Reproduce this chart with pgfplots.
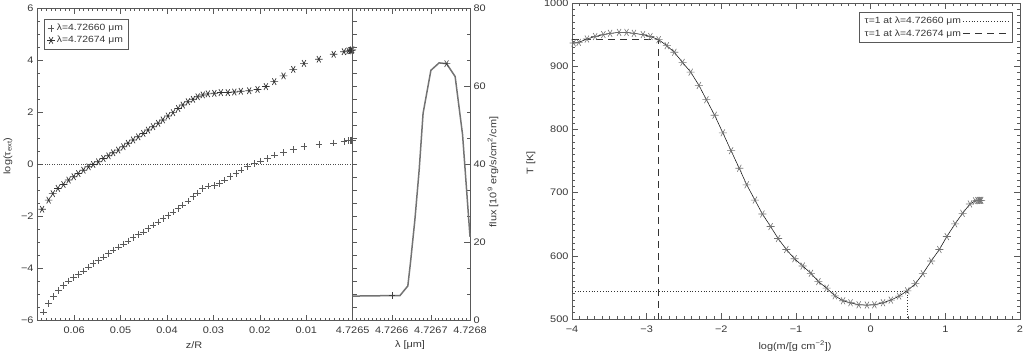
\documentclass[border=0pt]{standalone}
\usepackage{fontspec}
\setmainfont{Liberation Sans}[FakeStretch=1.15]
\usepackage{pgfplots}
\pgfplotsset{compat=1.18}
\definecolor{txt}{gray}{0.22}
\definecolor{frame}{gray}{0.35}
\definecolor{fluxgray}{gray}{0.45}
\pgfplotsset{
  idl/.style={
    scale only axis, anchor=south west, tick align=inside,
    major tick length=6pt, minor tick length=3pt,
    every tick/.style={frame, line width=0.5pt},
    axis line style={frame, line width=0.7pt},
    tick label style={font=\fontsize{9.5}{11}\selectfont, text=txt},
    /pgf/number format/assume math mode=true,
    /pgf/number format/1000 sep={},
    scaled x ticks=false, scaled y ticks=false,
    clip=false,
  }
}
\begin{document}
\begin{tikzpicture}[x=1pt,y=1pt]
\useasboundingbox (0,0) rectangle (1024,353);

% ---------------- left panel ----------------
\begin{axis}[idl, at={(37pt,32.3pt)}, width=315.7pt, height=312.5pt,
  xmin=0, xmax=0.068, x dir=reverse, ymin=-6, ymax=6,
  xtick={0,0.01,0.02,0.03,0.04,0.05,0.06},
  xticklabels={,0.01,0.02,0.03,0.04,0.05,0.06},
  minor xtick={0.001,0.002,0.003,0.004,0.005,0.006,0.007,0.008,0.009,0.011,0.012,0.013,0.014,0.015,0.016,0.017,0.018,0.019,0.021,0.022,0.023,0.024,0.025,0.026,0.027,0.028,0.029,0.031,0.032,0.033,0.034,0.035,0.036,0.037,0.038,0.039,0.041,0.042,0.043,0.044,0.045,0.046,0.047,0.048,0.049,0.051,0.052,0.053,0.054,0.055,0.056,0.057,0.058,0.059,0.061,0.062,0.063,0.064,0.065,0.066,0.067},
  ytick={-6,-4,-2,0,2,4,6}, yticklabels={−6,−4,−2,0,2,4,6},
  minor y tick num=3, ytick pos=left,
  xticklabel style={yshift=-3pt},
  legend style={at={(0.022,0.965)}, anchor=north west, draw=frame, line width=0.6pt,
    font=\fontsize{9}{10.5}\selectfont, text=txt, inner xsep=3pt, inner ysep=3pt, row sep=0pt, cells={anchor=west}},
]
\addplot[forget plot, black!70, dash pattern=on 0.8pt off 1.6pt, line width=0.5pt] coordinates {(0,0) (0.068,0)};
\addplot[only marks, mark=+, mark size=3.3pt, mark options={black!65, line width=0.6pt}] coordinates {
(0.0666,-5.67) (0.0655,-5.35) (0.0644,-5.06) (0.0634,-4.83) (0.0623,-4.64) (0.0612,-4.47)
(0.0601,-4.35) (0.0591,-4.22) (0.0580,-4.09) (0.0569,-3.94) (0.0559,-3.81) (0.0548,-3.68)
(0.0537,-3.55) (0.0526,-3.42) (0.0516,-3.29) (0.0505,-3.17) (0.0494,-3.06) (0.0484,-2.94)
(0.0473,-2.81) (0.0462,-2.69) (0.0451,-2.59) (0.0441,-2.46) (0.0430,-2.33) (0.0419,-2.21)
(0.0409,-2.08) (0.0398,-1.95) (0.0387,-1.82) (0.0376,-1.69) (0.0366,-1.56) (0.0355,-1.41)
(0.0344,-1.24) (0.0334,-1.09) (0.0323,-0.92) (0.0312,-0.83) (0.0298,-0.81) (0.0287,-0.73)
(0.0276,-0.60) (0.0264,-0.47) (0.0251,-0.35) (0.0241,-0.22) (0.0226,-0.09) (0.0212,0.04)
(0.0198,0.13) (0.0184,0.23) (0.0168,0.36) (0.0149,0.46) (0.0128,0.58) (0.0105,0.68)
(0.0073,0.77) (0.0041,0.83) (0.0019,0.87) (0.0009,0.91) (0.0005,0.92) (0.0003,0.93)
(0.0002,0.94) (0.0001,0.94)};
\addlegendentry{λ=4.72660 μm}
\addplot[only marks, mark=asterisk, mark size=3.8pt, mark options={black!80, line width=0.7pt, rotate=90}] coordinates {
(0.0669,-1.72) (0.0655,-1.37) (0.0646,-1.12) (0.0635,-0.92) (0.0623,-0.77) (0.0612,-0.60)
(0.0601,-0.47) (0.0591,-0.35) (0.0580,-0.22) (0.0569,-0.09) (0.0559,0.00) (0.0548,0.10)
(0.0537,0.23) (0.0526,0.33) (0.0516,0.45) (0.0505,0.55) (0.0494,0.68) (0.0484,0.81)
(0.0473,0.94) (0.0462,1.06) (0.0451,1.19) (0.0441,1.32) (0.0430,1.45) (0.0419,1.58)
(0.0409,1.71) (0.0398,1.86) (0.0387,1.99) (0.0376,2.15) (0.0366,2.28) (0.0355,2.41)
(0.0344,2.50) (0.0334,2.60) (0.0323,2.67) (0.0312,2.71) (0.0298,2.73) (0.0284,2.76)
(0.0269,2.76) (0.0255,2.78) (0.0241,2.81) (0.0223,2.83) (0.0205,2.88) (0.0187,2.99)
(0.0169,3.18) (0.0149,3.40) (0.0128,3.65) (0.0105,3.88) (0.0073,4.04) (0.0041,4.23)
(0.0019,4.33) (0.0009,4.36) (0.0005,4.37) (0.0003,4.38) (0.0002,4.39) (0.0001,4.40)};
\addlegendentry{λ=4.72674 μm}
\end{axis}

% ---------------- middle panel: left-edge ticks (log tau scale) ----------------
\begin{axis}[idl, at={(352.7pt,32.3pt)}, width=117.3pt, height=312.5pt,
  ymin=-6, ymax=6, xmin=0, xmax=1, hide x axis,
  ytick={-6,-4,-2,0,2,4,6}, yticklabels={}, minor y tick num=3, ytick pos=left,
  major tick length=4pt, minor tick length=4pt]
\addplot[draw=none, forget plot] coordinates {(0,0)};
\end{axis}

% ---------------- middle panel ----------------
\begin{axis}[idl, at={(352.7pt,32.3pt)}, width=117.3pt, height=312.5pt,
  xmin=0, xmax=3, ymin=0, ymax=80,
  xtick={0,1,2,3}, xticklabels={4.7265,4.7266,4.7267,4.7268},
  minor x tick num=9,
  ytick={0,20,40,60,80}, ytick pos=right, yticklabel pos=right,
  minor y tick num=2,
  xticklabel style={yshift=-3pt},
]
\addplot[fluxgray, line width=1.5pt] coordinates {
(0,6.3) (1.21,6.45) (1.41,8.9) (1.48,15.1) (1.59,25.8) (1.70,38.6) (1.80,53.1)
(2.00,64.1) (2.21,66.0) (2.40,65.8) (2.62,62.5) (2.81,47.6) (3.00,21.5)};
\addplot[only marks, mark=+, mark size=3.3pt, mark options={black!75, line width=0.6pt}] coordinates {(1.0,6.4)};
\addplot[only marks, mark=asterisk, mark size=3.8pt, mark options={black!75, line width=0.6pt, rotate=90}] coordinates {(2.4,65.8)};
\end{axis}

% ---------------- right panel ----------------
\begin{axis}[idl, at={(572pt,34pt)}, width=448pt, height=316pt,
  xmin=-4, xmax=2, ymin=500, ymax=1000,
  xtick={-4,-3,-2,-1,0,1,2}, xticklabels={−4,−3,−2,−1,0,1,2},
  minor x tick num=9,
  ytick={500,600,700,800,900,1000}, yticklabels={500,600,700,800,900,1000},
  minor y tick num=9,
  xticklabel style={yshift=-3pt},
  legend plot pos=right,
  legend style={at={(0.984,0.971)}, anchor=north east, draw=frame, line width=0.6pt,
    font=\fontsize{9}{10.5}\selectfont, text=txt, inner xsep=3pt, inner ysep=3pt, row sep=0pt, cells={anchor=west}},
  legend image code/.code={\draw[#1] (14pt,0pt) -- (60pt,0pt);},
]
\addplot[black, line width=0.5pt, mark=asterisk, mark size=4pt, mark options={black!55, line width=0.6pt, rotate=90}, forget plot] coordinates {
(-3.978,936.7) (-3.91,937.7) (-3.80,943) (-3.69,947) (-3.58,950) (-3.49,952) (-3.37,953.5)
(-3.27,953.5) (-3.17,952) (-3.05,950) (-2.95,947) (-2.84,942) (-2.73,932.5) (-2.63,922)
(-2.52,906) (-2.41,890.6) (-2.30,869.6) (-2.20,847) (-2.09,822.4) (-1.98,794.6) (-1.87,766.3)
(-1.76,738.5) (-1.66,712.3) (-1.55,688.2) (-1.45,666.2) (-1.34,646.3) (-1.24,627.4) (-1.13,610)
(-1.02,595.4) (-0.91,583.9) (-0.80,572.3) (-0.70,559.2) (-0.59,548.8) (-0.48,536.7) (-0.37,528.8)
(-0.27,525.7) (-0.16,522.5) (-0.05,522) (0.05,522.5) (0.165,525.7) (0.27,529.9) (0.38,536.2)
(0.49,544.6) (0.60,556) (0.70,571.8) (0.81,591.7) (0.92,610) (1.02,630.5) (1.13,650.5)
(1.23,667.2) (1.33,681.9) (1.40,687) (1.43,687.5) (1.45,687.7) (1.46,687.7) (1.47,687.7) (1.48,687.7)};
\addplot[black!80, line width=0.5pt, dash pattern=on 0.8pt off 2pt] coordinates {(-4,544.3) (0.49,544.3) (0.49,500)};
\addlegendentry{τ=1 at λ=4.72660 μm}
\addplot[black!80, line width=0.5pt, dash pattern=on 7pt off 5pt] coordinates {(-4,942) (-2.845,942) (-2.845,500)};
\addlegendentry{τ=1 at λ=4.72674 μm}
\end{axis}

% ---------------- axis titles ----------------
\begin{scope}[every node/.style={font=\fontsize{9.5}{11}\selectfont, text=txt}]
\node at (194,8) {z/R};
\node[rotate=90] at (8,197) {log(τ\textsubscript{ext})};
\node at (410,8) {λ [μm]};
\node[rotate=90] at (493,181) {flux [10\textsuperscript{9} erg/s/cm\textsuperscript{2}/cm]};
\node[rotate=90] at (531,190) {T [K]};
\node at (795,7) {log(m/[g cm\textsuperscript{−2}])};
\end{scope}
\end{tikzpicture}
\end{document}
